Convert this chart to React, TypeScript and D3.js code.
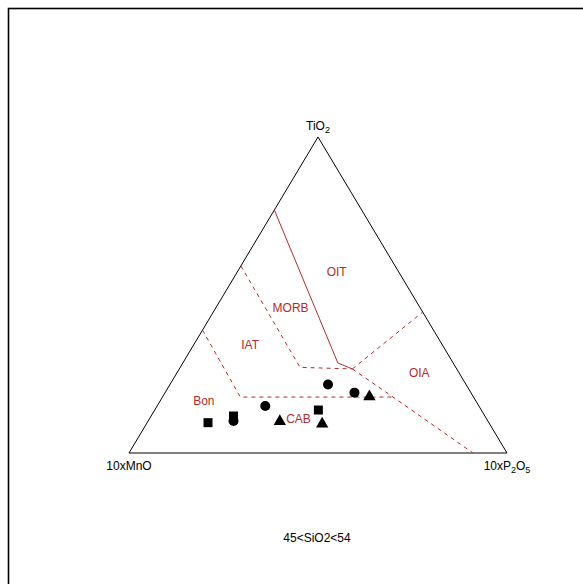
import React from "react";
import * as d3 from "d3";

// Mullen (1983) MnO–TiO2–P2O5 discrimination diagram, 45 < SiO2 < 54 wt%.
// Compositions are given as TiO2, 10×MnO, 10×P2O5 (relative %).

const circleTi = [21.7, 19.1, 14.9, 10.1];
const circleMn = [36.5, 30.8, 56.5, 67.3];
const circleP = [41.8, 50.1, 28.6, 22.6];

const squareTi = [13.6, 9.6, 11.7];
const squareMn = [43.1, 74.3, 66.5];
const squareP = [43.3, 16.1, 21.8];

const triangleTi = [17.8, 9.2, 10.0];
const triangleMn = [27.5, 44.3, 55.1];
const triangleP = [54.7, 46.5, 34.9];

// Field boundaries as [TiO2, 10xMnO, 10xP2O5] vertices
const solidBoundaries: number[][][] = [
  [[76.9, 23.1, 0], [28.5, 30.5, 41.0], [26.6, 27.6, 45.8]],
];
const dashedBoundaries: number[][][] = [
  [[59.2, 40.8, 0], [27.1, 41.2, 31.7], [26.6, 27.6, 45.8]],
  [[26.6, 27.6, 45.8], [44.6, 0, 55.4]],
  [[26.6, 27.6, 45.8], [17.7, 21.3, 61.0], [0, 9.0, 91.0]],
  [[38.9, 61.1, 0], [17.7, 61.7, 20.6], [17.7, 21.3, 61.0]],
];

const fieldNames = ["OIT", "MORB", "IAT", "OIA", "Bon", "CAB"];
const fieldTi = [57.3, 45.9, 34.3, 25.2, 16.6, 10.7];
const fieldMn = [16.4, 34.3, 50.8, 10.6, 71.9, 49.8];
const fieldP = [26.3, 19.8, 14.9, 64.2, 11.5, 39.5];

const W = 583;
const H = 584;
const xScale = d3.scaleLinear().domain([0, 1]).range([129, 507]);
const yScale = d3.scaleLinear().domain([0, 1]).range([453, 137]);

const FIELD_RED = "#b32b2b";
const FONT = "Liberation Sans, Arial, Helvetica, sans-serif";

function toXY(ti: number, mn: number, p: number): [number, number] {
  const s = ti + mn + p;
  const a = ti / s;
  const c = p / s;
  return [xScale(c + a / 2), yScale(a)];
}

const line = d3
  .line<number[]>()
  .x((d) => toXY(d[0], d[1], d[2])[0])
  .y((d) => toXY(d[0], d[1], d[2])[1]);

const circleSym = d3.symbol().type(d3.symbolCircle).size(Math.PI * 25);
const squareSym = d3.symbol().type(d3.symbolSquare).size(81);
const triangleSym = d3.symbol().type(d3.symbolTriangle).size(66);

export default function App() {
  const frame = [[100, 0, 0], [0, 100, 0], [0, 0, 100], [100, 0, 0]];
  const top = toXY(100, 0, 0);
  const left = toXY(0, 100, 0);
  const right = toXY(0, 0, 100);

  return (
    <svg
      width={W}
      height={H}
      style={{ position: "absolute", left: 0, top: 0, background: "#fff" }}
      fontFamily={FONT}
    >
      <rect x={8.5} y={8.5} width={620} height={620} fill="none" stroke="#000" strokeWidth={1.6} />

      <path d={line(frame) || ""} fill="none" stroke="#000" strokeWidth={1} />

      {solidBoundaries.map((seg, i) => (
        <path key={"s" + i} d={line(seg) || ""} fill="none" stroke={FIELD_RED} strokeWidth={1} />
      ))}
      {dashedBoundaries.map((seg, i) => (
        <path
          key={"d" + i}
          d={line(seg) || ""}
          fill="none"
          stroke={FIELD_RED}
          strokeWidth={1}
          strokeDasharray="4,4"
        />
      ))}

      {fieldNames.map((name, i) => {
        const [x, y] = toXY(fieldTi[i], fieldMn[i], fieldP[i]);
        return (
          <text
            key={name}
            x={x}
            y={y}
            fill={FIELD_RED}
            fontSize={12}
            textAnchor="middle"
            dominantBaseline="central"
          >
            {name}
          </text>
        );
      })}

      {circleTi.map((ti, i) => {
        const [x, y] = toXY(ti, circleMn[i], circleP[i]);
        return <path key={"c" + i} d={circleSym() || ""} transform={`translate(${x},${y})`} fill="#000" />;
      })}
      {squareTi.map((ti, i) => {
        const [x, y] = toXY(ti, squareMn[i], squareP[i]);
        return <path key={"q" + i} d={squareSym() || ""} transform={`translate(${x},${y})`} fill="#000" />;
      })}
      {triangleTi.map((ti, i) => {
        const [x, y] = toXY(ti, triangleMn[i], triangleP[i]);
        return <path key={"t" + i} d={triangleSym() || ""} transform={`translate(${x},${y})`} fill="#000" />;
      })}

      <text x={top[0]} y={130} fontSize={12} textAnchor="middle" fill="#000">
        TiO<tspan fontSize={9} dy={3}>2</tspan>
      </text>
      <text x={left[0]} y={470} fontSize={12} textAnchor="middle" fill="#000">
        10xMnO
      </text>
      <text x={right[0]} y={470} fontSize={12} textAnchor="middle" fill="#000">
        10xP<tspan fontSize={9} dy={3}>2</tspan>
        <tspan dy={-3}>O</tspan>
        <tspan fontSize={9} dy={3}>5</tspan>
      </text>
      <text x={317} y={542} fontSize={12} textAnchor="middle" fill="#000">
        45&lt;SiO2&lt;54
      </text>
    </svg>
  );
}
